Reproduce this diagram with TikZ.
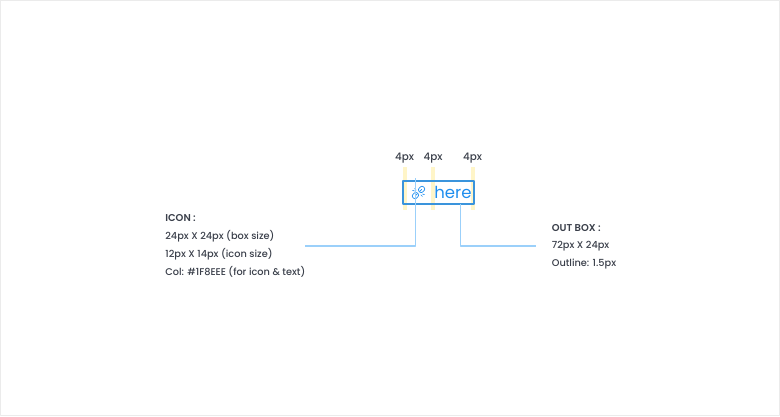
\documentclass[tikz,border=0pt]{standalone}
\usepackage{fontspec}
\setmainfont{Poppins}[UprightFont=* Medium, BoldFont=* SemiBold]
\newfontfamily\herefont{Poppins}
\definecolor{iconblue}{HTML}{1F8EEE}
\definecolor{leaderblue}{HTML}{9BD0FA}
\definecolor{gapyellow}{HTML}{FFF5C8}
\definecolor{boxedge}{HTML}{3A94DC}
\definecolor{inktext}{HTML}{3A3F4A}
\begin{document}
\begin{tikzpicture}[x=0.02cm, y=-0.02cm, line join=round, line cap=round,
    spec/.style={font=\fontsize{5.55pt}{7pt}\selectfont, text=inktext, inner sep=0pt, anchor=west},
    gaplabel/.style={font=\fontsize{5.9pt}{7pt}\selectfont, text=inktext, inner sep=0pt},
    leader/.style={draw=leaderblue, line width=0.7pt, line cap=butt}]
    \useasboundingbox (0,0) rectangle (780,416);
    \draw[draw=black!8, line width=0.6pt] (0.5,0.5) rectangle (779.5,415.5); % frame
    % gap markers
    \foreach \xg in {403,431,471}
        \fill[gapyellow] (\xg,167) rectangle (\xg+3.6,210);
    \node[gaplabel] (gapa) at (404.5,158.5) {4px};
    \node[gaplabel] (gapb) at (433,158.5) {4px};
    \node[gaplabel] (gapc) at (472.5,158.5) {4px};
    % out box
    \node[draw=boxedge, line width=0.9pt, minimum width=0.02cm*70.5, minimum height=0.02cm*22.5, inner sep=0pt] (outbox) at (438.5,192.5) {};
    \node[text=iconblue, font=\fontsize{9.4pt}{10pt}\selectfont\herefont, inner sep=0pt] (here) at (453,192) {here};
    % broken link icon
    \begin{scope}[shift={(418.5,192.5)}, rotate=45, draw=iconblue, line width=0.4pt]
        \draw[rounded corners=1.2pt] (-1.2,-2.6) rectangle (-7.5,2.6);
        \draw[rounded corners=1.2pt] (1.2,-2.6) rectangle (7.5,2.6);
        \draw (-4.5,0) -- (-1.5,0) (1.5,0) -- (4.5,0);
        \draw (0,-3.5) -- (0,-5.5) (0,3.5) -- (0,5.5) (-1.8,-4) -- (-2.6,-5.6) (1.8,4) -- (2.6,5.6);
    \end{scope}
    % text blocks
    \node[spec, font=\fontsize{5.65pt}{7pt}\selectfont\bfseries] (icontitle) at (165,218) {ICON :};
    \node[spec] (iconbox) at (165,236) {24px X 24px (box size)};
    \node[spec] (iconsize) at (165,254) {12px X 14px (icon size)};
    \node[spec] (iconcol) at (165,272) {Col: \#1F8EEE (for icon \& text)};
    \node[spec, font=\fontsize{5.65pt}{7pt}\selectfont\bfseries] (boxtitle) at (551.5,228) {OUT BOX :};
    \node[spec] (boxsize) at (551.5,246) {72px X 24px};
    \node[spec] (boxline) at (551.5,264) {Outline: 1.5px};
    % leaders
    \coordinate (icontop) at (415.5,178);
    \coordinate (iconend) at (305,246);
    \coordinate (boxend) at (536,246);
    \coordinate (boxfoot) at (460.5,204);
    \draw[leader] (icontop) |- (iconend);
    \draw[leader] (boxfoot) |- (boxend);
\end{tikzpicture}
\end{document}
